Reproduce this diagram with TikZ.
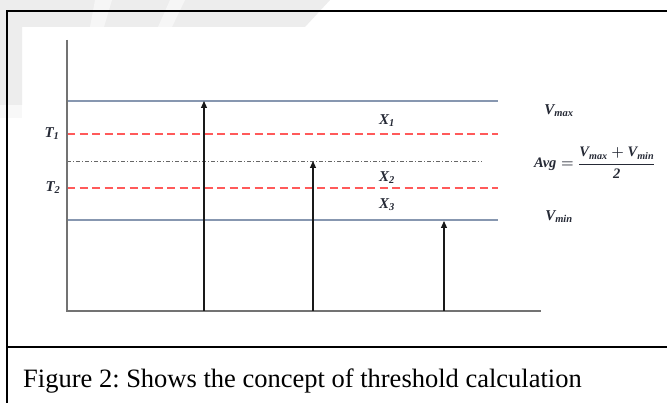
\documentclass[tikz,border=0pt]{standalone}
\usepackage{amsmath}
\usepackage{fontspec}
\setmainfont{Liberation Serif}
\usetikzlibrary{arrows.meta}
\newcommand{\bvar}[1]{\text{\bfseries\itshape #1}}
\definecolor{bluegray}{HTML}{8797B0}
\definecolor{lred}{HTML}{FF5A5A}
\definecolor{wm}{HTML}{EDEDED}
\definecolor{ink}{HTML}{262A36}
\tikzset{
  lvl/.style={draw=bluegray,line width=1.4pt},
  thr/.style={draw=lred,line width=1.1pt,dash pattern=on 8pt off 4.5pt},
  avgl/.style={draw=black!60,line width=0.8pt,dash pattern=on 4pt off 2pt on 1pt off 2pt},
  axis/.style={draw=black!55,line width=1.1pt},
  sig/.style={draw=black!90,line width=1.1pt,-{Triangle[length=7pt,width=6pt]}},
  lbl/.style={inner sep=0pt,text=ink,font=\fontsize{15}{16}\selectfont\boldmath},
  frame/.style={draw=black,line width=2.2pt}
}
\begin{document}
\frenchspacing
\begin{tikzpicture}[x=1pt,y=-1pt]
\useasboundingbox (0,0) rectangle (667,403);
\fill[white] (0,0) rectangle (667,403);
% watermark
\fill[wm] (0,0) -- (330,0) -- (305,27) -- (22,27) -- (22,105) -- (0,105) -- cycle;
\fill[white!60!wm] (0,105) rectangle (22,118);
\fill[white!50!wm] (95,0) -- (112,0) -- (104,27) -- (90,27) -- cycle;
\fill[white!50!wm] (170,0) -- (185,0) -- (172,27) -- (158,27) -- cycle;
% frame
\draw[frame] (7,403) -- (7,11) -- (667,11);
\draw[frame] (7,347) -- (667,347);
% coordinates
\coordinate (O) at (67,311);
\coordinate (Ytop) at (67,40);
\coordinate (Xend) at (541,311);
\coordinate (maxL) at (67,101); \coordinate (maxR) at (498,101);
\coordinate (t1L) at (67,134);  \coordinate (t1R) at (498,134);
\coordinate (avL) at (67,161);  \coordinate (avR) at (482,161);
\coordinate (t2L) at (67,188);  \coordinate (t2R) at (498,188);
\coordinate (minL) at (67,220); \coordinate (minR) at (498,220);
\coordinate (a1b) at (204,311); \coordinate (a1t) at (204,101);
\coordinate (a2b) at (313,311); \coordinate (a2t) at (313,161);
\coordinate (a3b) at (444,311); \coordinate (a3t) at (444,221);
% levels
\draw[lvl] (maxL) -- (maxR);
\draw[thr] (t1L) -- (t1R);
\draw[avgl] (avL) -- (avR);
\draw[thr] (t2L) -- (t2R);
\draw[lvl] (minL) -- (minR);
% axes
\draw[axis] (Ytop) -- (O) -- (Xend);
% signals
\draw[sig] (a1b) -- (a1t);
\draw[sig] (a2b) -- (a2t);
\draw[sig] (a3b) -- (a3t);
% labels
\node[lbl] (T1) at (52,134) {$\bvar{T}_{\bvar{1}}$};
\node[lbl] (T2) at (53,188) {$\bvar{T}_{\bvar{2}}$};
\node[lbl] (X1) at (387,121) {$\bvar{X}_{\bvar{1}}$};
\node[lbl] (X2) at (387,178) {$\bvar{X}_{\bvar{2}}$};
\node[lbl] (X3) at (387,205) {$\bvar{X}_{\bvar{3}}$};
\node[lbl] (Vmax) at (559,111) {$\bvar{V}_{\bvar{max}}$};
\node[lbl] (Vmin) at (559,217) {$\bvar{V}_{\bvar{min}}$};
\node[lbl,anchor=west,font=\fontsize{14.5}{16}\selectfont\boldmath] (Avg) at (534,163) {$\bvar{Avg}=\dfrac{\bvar{V}_{\bvar{max}}+\bvar{V}_{\bvar{min}}}{\bvar{2}}$};
% caption
\node[anchor=base west,inner sep=0pt,font=\fontsize{26.5}{30}\selectfont] (cap) at (23,388) {Figure 2: Shows the concept of threshold calculation};
\end{tikzpicture}
\end{document}
